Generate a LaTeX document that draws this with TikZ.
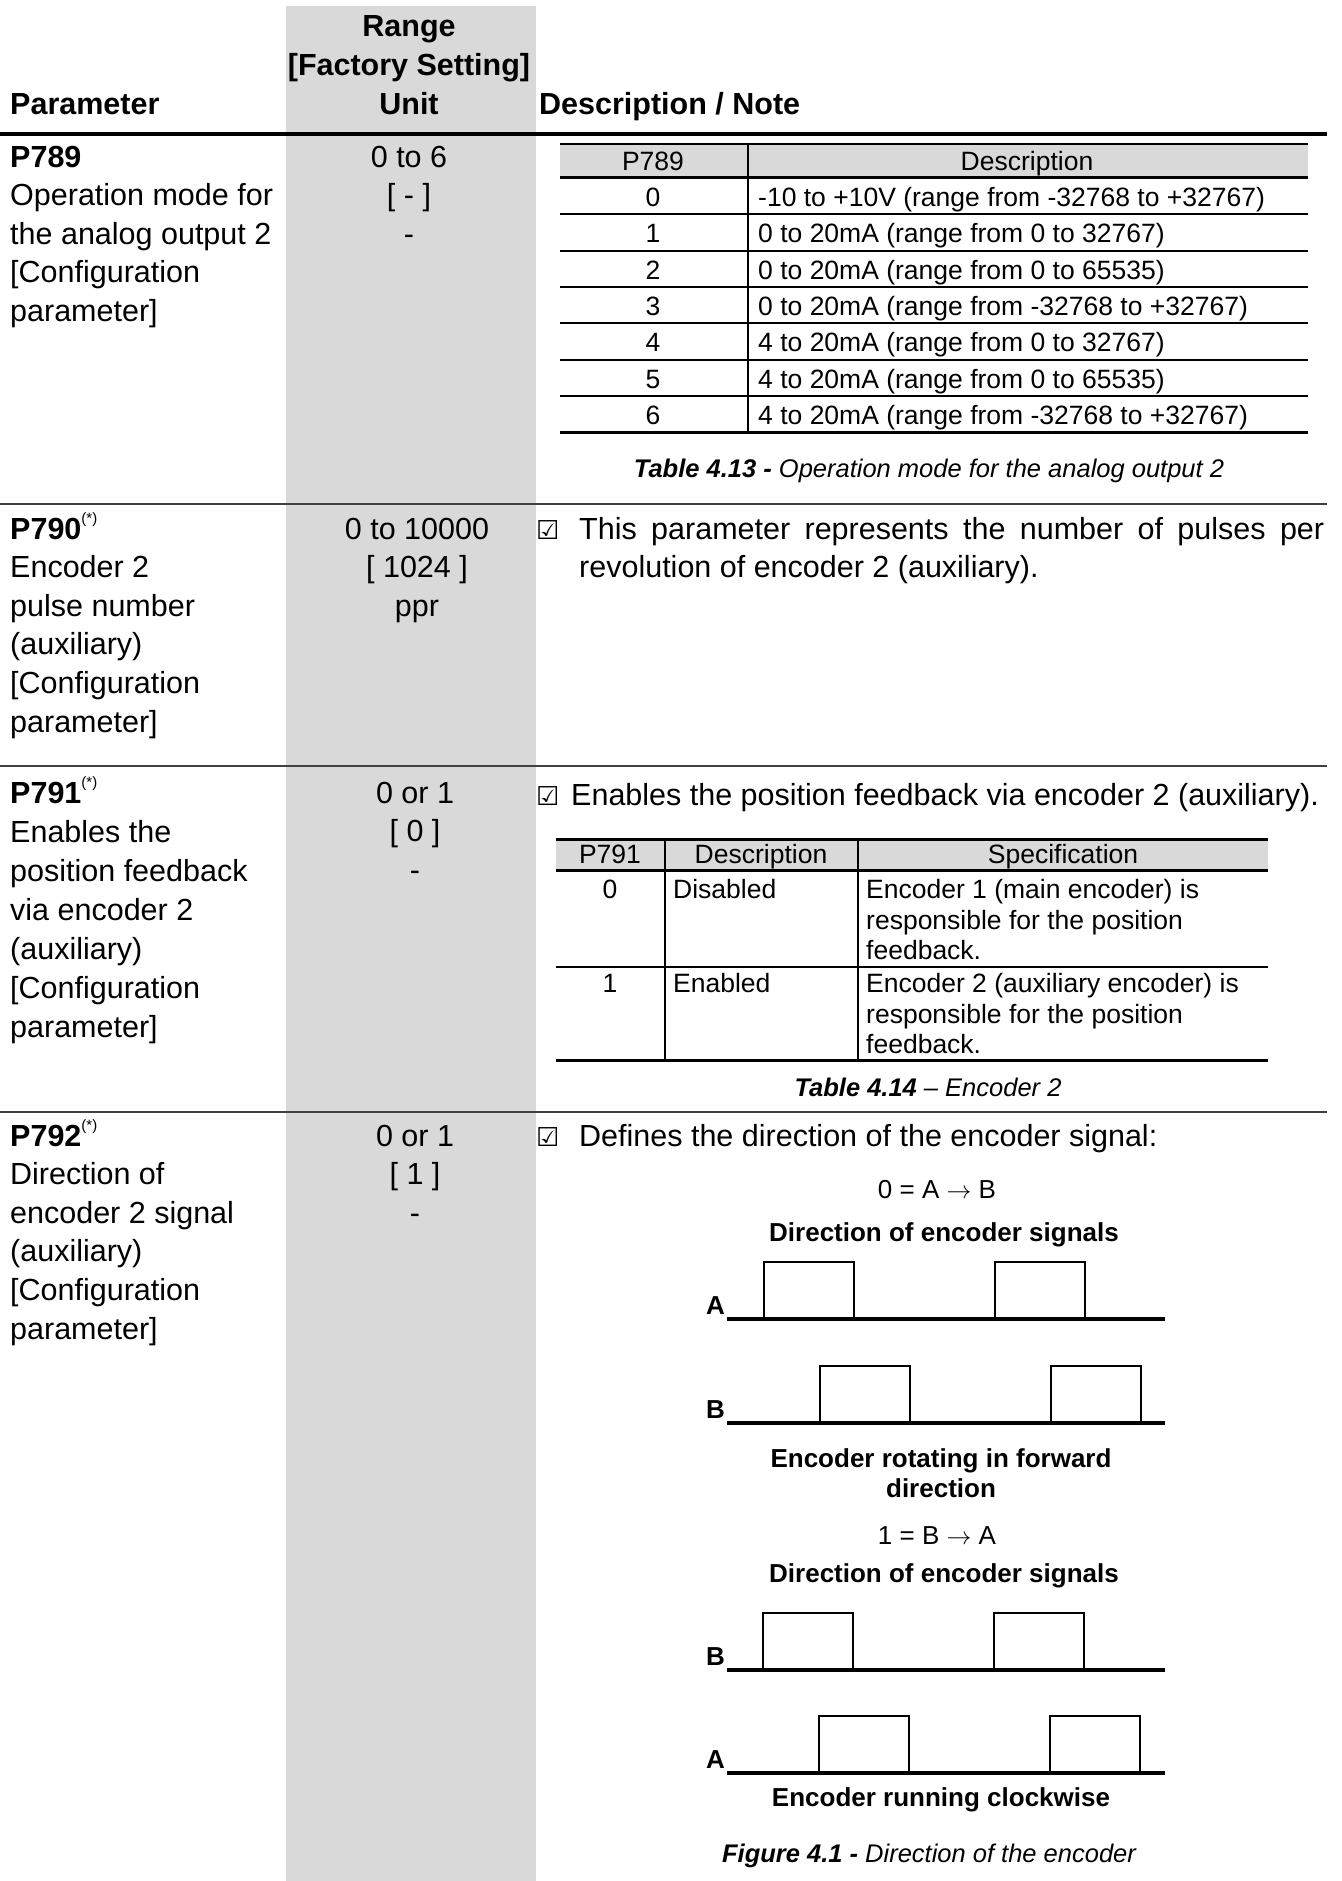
\documentclass[tikz,border=0pt]{standalone}
\usepackage{fontspec}
\setmainfont{Liberation Sans}
\newfontfamily\symfont{DejaVu Sans}
\usepackage{tikz}
\usetikzlibrary{positioning}

\definecolor{colgray}{RGB}{217,217,217}
\definecolor{rulegray}{RGB}{64,64,64}

\begin{document}
\begin{tikzpicture}[x=1pt, y=-1pt,
    body/.style={inner sep=0pt, align=left, font=\fontsize{30.5}{38.6}\selectfont},
    bodybold/.style={body, font=\fontsize{30.5}{39}\selectfont\bfseries},
    unit/.style={body, align=center},
    tab/.style={inner sep=0pt, align=left, font=\fontsize{26.5}{30.5}\selectfont},
    fig/.style={inner sep=0pt, align=center, font=\fontsize{26}{30}\selectfont},
    figbold/.style={fig, font=\fontsize{26}{30}\selectfont\bfseries},
    caption/.style={inner sep=0pt, font=\fontsize{25.5}{30}\selectfont\itshape},
    checkbox/.style={inner sep=0pt, anchor=base west, font=\symfont\fontsize{26}{26}\selectfont},
    rowrule/.style={draw=rulegray, line width=2.5pt},
    tabrule/.style={line width=2pt},
    thickrule/.style={line width=3pt},
    signal/.style={line width=3.2pt},
    pulse/.style={line width=2.6pt}]
    \def\fnmark{\raisebox{0.5em}{\fontsize{15}{15}\selectfont\mdseries(*)}}
    \useasboundingbox (0,0) rectangle (1341,1881);
    % multi-line nodes below sit on the baseline of their last line

    % Gray column for range / setting / unit
    \fill[colgray] (286,6) rectangle (536,1881);

    % Header
    \node[bodybold, anchor=base west] at (10,115) (hPar) {Parameter};
    \node[bodybold, align=center, anchor=base] at (409,37+2*39) (hRange) {Range\\{[}Factory Setting{]}\\Unit};
    \node[bodybold, anchor=base west] at (539,115) (hDesc) {Description / Note};
    \draw[line width=4.5pt] (0,134) -- (1327,134);

    % P789
    \node[body, anchor=base west] at (10,167+4*38.6) (p789) {\textbf{P789}\\Operation mode for\\the analog output 2\\{[}Configuration\\parameter{]}};
    \node[unit, anchor=base] at (409,167+2*38.6) (r789) {0 to 6\\{[} - {]}\\-};

    % Table 4.13
    \fill[colgray] (560,144) rectangle (1308,178);
    \draw[line width=1.2pt] (560,144) -- (1308,144);
    \draw[thickrule] (560,178) -- (1308,178);
    \node[tab, anchor=base] at (653,170.5) (t13h1) {P789};
    \node[tab, anchor=base] at (1027,170.5) (t13h2) {Description};
    \foreach \v/\d [count=\r from 0] in {0/{-10 to +10V (range from -32768 to +32767)},
        1/{0 to 20mA (range from 0 to 32767)}, 2/{0 to 20mA (range from 0 to 65535)},
        3/{0 to 20mA (range from -32768 to +32767)}, 4/{4 to 20mA (range from 0 to 32767)},
        5/{4 to 20mA (range from 0 to 65535)}, 6/{4 to 20mA (range from -32768 to +32767)}} {
        \node[tab, anchor=base] at (653,206.5+\r*36.3) (t13v-\r) {\v};
        \node[tab, anchor=base west] at (758,206.5+\r*36.3) (t13d-\r) {\d};
    }
    \foreach \r in {1,...,6}
        \draw[tabrule] (560,178+\r*36.3) -- (1308,178+\r*36.3);
    \draw[thickrule] (560,432) -- (1308,432);
    \draw[tabrule] (748,144) -- (748,432);
    \node[caption, anchor=base] at (929,477) (cap13) {\textbf{Table 4.13 -} Operation mode for the analog output 2};
    \draw[rowrule] (0,504) -- (1327,504);

    % P790
    \node[body, anchor=base west] at (10,539+5*38.6) (p790) {\textbf{P790}\fnmark\\Encoder 2\\pulse number\\(auxiliary)\\{[}Configuration\\parameter{]}};
    \node[unit, anchor=base] at (417,539+2*38.6) (r790) {0 to 10000\\{[} 1024 {]}\\ppr};
    \node[checkbox] at (536,539) (c790) {☑};
    \node[body, anchor=base west] at (579,539+38.6) (d790) {\makebox[745pt][s]{This parameter represents the number of pulses per}\\revolution of encoder 2 (auxiliary).};
    \draw[rowrule] (0,766) -- (1327,766);

    % P791
    \node[body, font=\fontsize{30.5}{39}\selectfont, anchor=base west] at (10,803+6*39) (p791) {\textbf{P791}\fnmark\\Enables the\\position feedback\\via encoder 2\\(auxiliary)\\{[}Configuration\\parameter{]}};
    \node[unit, anchor=base] at (415,803+2*38.6) (r791) {0 or 1\\{[} 0 {]}\\-};
    \node[checkbox] at (536,805) (c791) {☑};
    \node[body, anchor=base west] at (571,805) (d791) {Enables the position feedback via encoder 2 (auxiliary).};

    % Table 4.14
    \fill[colgray] (556,839) rectangle (1268,870);
    \draw[thickrule] (556,839) -- (1268,839);
    \draw[thickrule] (556,870) -- (1268,870);
    \draw[tabrule] (556,967) -- (1268,967);
    \draw[thickrule] (556,1060) -- (1268,1060);
    \draw[tabrule] (665,839) -- (665,1060);
    \draw[tabrule] (858,839) -- (858,1060);
    \node[tab, anchor=base] at (610,863.5) (t14h1) {P791};
    \node[tab, anchor=base] at (761,863.5) (t14h2) {Description};
    \node[tab, anchor=base] at (1063,863.5) (t14h3) {Specification};
    \node[tab, anchor=base] at (610,898.5) (t14v0) {0};
    \node[tab, anchor=base west] at (673,898.5) (t14d0) {Disabled};
    \node[tab, anchor=base west] at (866,898.5+2*30.5) (t14s0) {Encoder 1 (main encoder) is\\responsible for the position\\feedback.};
    \node[tab, anchor=base] at (610,992.5) (t14v1) {1};
    \node[tab, anchor=base west] at (673,992.5) (t14d1) {Enabled};
    \node[tab, anchor=base west] at (866,992.5+2*30.5) (t14s1) {Encoder 2 (auxiliary encoder) is\\responsible for the position\\feedback.};
    \node[caption, anchor=base] at (928,1096) (cap14) {\textbf{Table 4.14} – Encoder 2};
    \draw[rowrule] (0,1112) -- (1327,1112);

    % P792
    \node[body, anchor=base west] at (10,1146+5*38.6) (p792) {\textbf{P792}\fnmark\\Direction of\\encoder 2 signal\\(auxiliary)\\{[}Configuration\\parameter{]}};
    \node[unit, anchor=base] at (415,1146+2*38.6) (r792) {0 or 1\\{[} 1 {]}\\-};
    \node[checkbox] at (536,1146) (c792) {☑};
    \node[body, anchor=base west] at (579,1146) (d792) {Defines the direction of the encoder signal:};

    % Figure 4.1 - encoder signals
    \node[fig, anchor=base] at (937,1198) (mode0) {0 = A $\rightarrow$ B};
    \node[figbold, anchor=base] at (944,1241) (dir0) {Direction of encoder signals};
    \node[figbold, anchor=base] at (941,1467+30) (fwd) {Encoder rotating in forward\\direction};
    \node[fig, anchor=base] at (937,1544) (mode1) {1 = B $\rightarrow$ A};
    \node[figbold, anchor=base] at (944,1582) (dir1) {Direction of encoder signals};
    \node[figbold, anchor=base] at (941,1806) (cw) {Encoder running clockwise};
    \node[caption, anchor=base] at (929,1862) (fig41) {\textbf{Figure 4.1 -} Direction of the encoder};

    % Signal labels and pulse trains
    \foreach \y/\l [count=\k] in {1314/A, 1418/B, 1665/B, 1768/A}
        \node[figbold, anchor=base east] at (725,\y) (sig-\k) {\l};
    \foreach \y/\s in {1319/764, 1423/820, 1670/763, 1773/819} {
        \draw[pulse] (\s,\y) rectangle (\s+90,\y-57) (\s+231,\y) rectangle (\s+321,\y-57);
        \draw[signal] (727,\y) -- (1165,\y);
    }
\end{tikzpicture}
\end{document}
